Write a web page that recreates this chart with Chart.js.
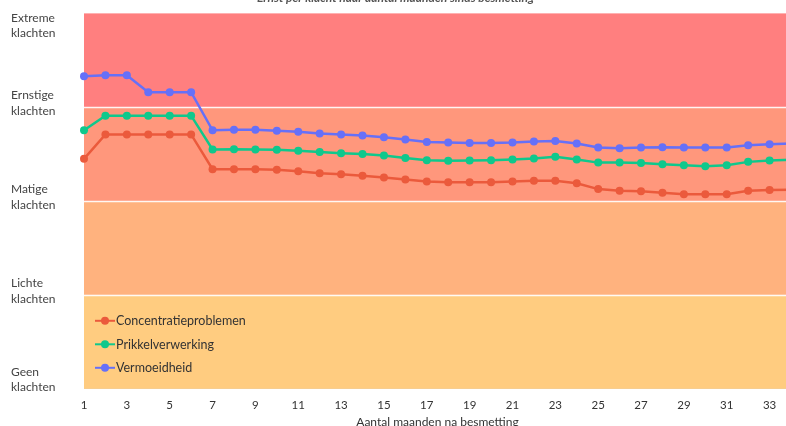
<!DOCTYPE html>
<html>
<head>
<meta charset="utf-8">
<script src="https://cdn.jsdelivr.net/npm/chart.js@4/dist/chart.umd.min.js"></script>
<style>
  html, body { margin: 0; padding: 0; background: #ffffff; overflow: hidden; width: 786px; height: 426px; }
  #wrap { position: absolute; left: 0; top: -19px; width: 804px; height: 452px; }
</style>
</head>
<body>
<div id="wrap"><canvas id="c" width="804" height="452"></canvas></div>
<script>
const titleText = 'Ernst per klacht naar aantal maanden sinds besmetting';
const xTitle = 'Aantal maanden na besmetting';
const months = ['1','2','3','4','5','6','7','8','9','10','11','12','13','14','15','16','17','18','19','20','21','22','23','24','25','26','27','28','29','30','31','32','33','34'];

const seriesNames = ['Concentratieproblemen', 'Prikkelverwerking', 'Vermoeidheid'];
const concentratie = [2.45,2.71,2.71,2.71,2.71,2.71,2.34,2.34,2.34,2.333,2.317,2.298,2.286,2.27,2.252,2.23,2.21,2.202,2.202,2.202,2.21,2.216,2.217,2.191,2.128,2.11,2.106,2.089,2.074,2.074,2.074,2.11,2.117,2.12];
const prikkel = [2.755,2.91,2.91,2.91,2.91,2.91,2.55,2.553,2.55,2.546,2.537,2.522,2.51,2.502,2.486,2.46,2.436,2.43,2.433,2.436,2.443,2.454,2.472,2.443,2.41,2.41,2.407,2.393,2.383,2.372,2.383,2.418,2.432,2.44];
const vermoeid = [3.33,3.34,3.34,3.16,3.16,3.16,2.755,2.76,2.76,2.75,2.74,2.72,2.71,2.70,2.68,2.656,2.63,2.624,2.62,2.62,2.624,2.635,2.64,2.613,2.571,2.564,2.571,2.574,2.571,2.571,2.571,2.596,2.606,2.615];
const seriesColors = ['#EB5A3C', '#0FC88C', '#6670F8'];

const yTickValues = [0, 1, 2, 3, 4];
const yTickLabels = [['Geen','klachten'], ['Lichte','klachten'], ['Matige','klachten'], ['Ernstige','klachten'], ['Extreme','klachten']];
const bandEdges = [0, 1, 2, 3, 4];
const bandColors = ['#FFCC80', '#FFB27E', '#FF977C', '#FF7F7F'];

const bandsPlugin = {
  id: 'bands',
  beforeDatasetsDraw(chart) {
    const { ctx, chartArea, scales } = chart;
    const y = scales.y;
    ctx.save();
    for (let i = 0; i < bandColors.length; i++) {
      const top = y.getPixelForValue(bandEdges[i + 1]);
      const bot = y.getPixelForValue(bandEdges[i]);
      ctx.fillStyle = bandColors[i];
      ctx.fillRect(chartArea.left, top, chartArea.right - chartArea.left, bot - top);
    }
    ctx.strokeStyle = 'rgba(255,255,255,0.9)';
    ctx.lineWidth = 1.5;
    for (let i = 1; i < bandEdges.length - 1; i++) {
      const p = Math.round(y.getPixelForValue(bandEdges[i])) + 0.5;
      ctx.beginPath();
      ctx.moveTo(chartArea.left, p);
      ctx.lineTo(chartArea.right, p);
      ctx.stroke();
    }
    ctx.restore();
  }
};

const yLabelPlugin = {
  id: 'ylabels',
  afterDraw(chart) {
    const { ctx, chartArea, scales } = chart;
    const y = scales.y;
    const lh = 15.5;
    ctx.save();
    ctx.font = '12px Lato';
    ctx.fillStyle = '#444444';
    ctx.textAlign = 'left';
    ctx.textBaseline = 'middle';
    yTickValues.forEach((v, i) => {
      const lines = yTickLabels[i];
      let c = y.getPixelForValue(v) - 4;
      c = Math.max(chartArea.top + 12, Math.min(chartArea.bottom - 9, c));
      const start = c - (lines.length - 1) * lh / 2;
      lines.forEach((t, k) => ctx.fillText(t, 11, start + k * lh));
    });
    ctx.restore();
  }
};

const legendPlugin = {
  id: 'innerLegend',
  afterDraw(chart) {
    const { ctx, chartArea } = chart;
    const ds = chart.data.datasets;
    ctx.save();
    ctx.font = '12.5px Lato';
    ctx.textAlign = 'left';
    ctx.textBaseline = 'middle';
    ds.forEach((d, i) => {
      const yy = chartArea.bottom - 68 + i * 23.5;
      const x0 = chartArea.left + 11;
      ctx.strokeStyle = d.borderColor;
      ctx.lineWidth = 2;
      ctx.beginPath();
      ctx.moveTo(x0, yy);
      ctx.lineTo(x0 + 20, yy);
      ctx.stroke();
      ctx.fillStyle = d.borderColor;
      ctx.beginPath();
      ctx.arc(x0 + 10, yy, 4, 0, Math.PI * 2);
      ctx.fill();
      ctx.fillStyle = '#333333';
      ctx.fillText(d.label, x0 + 21, yy + 0.5);
    });
    ctx.restore();
  }
};

const seriesData = [concentratie, prikkel, vermoeid];

new Chart(document.getElementById('c'), {
  type: 'line',
  data: {
    labels: months,
    datasets: seriesData.map((arr, i) => ({
      label: seriesNames[i],
      data: arr,
      borderColor: seriesColors[i],
      backgroundColor: seriesColors[i],
      pointBackgroundColor: seriesColors[i],
      pointBorderColor: seriesColors[i],
      pointBorderWidth: 0,
      pointRadius: 4,
      borderWidth: 2.5,
      tension: 0,
      fill: false
    }))
  },
  plugins: [bandsPlugin, yLabelPlugin, legendPlugin],
  options: {
    responsive: false,
    animation: false,
    layout: { padding: { left: 0, right: 13, top: 0, bottom: 0 } },
    plugins: {
      legend: { display: false },
      tooltip: { enabled: false },
      title: {
        display: true,
        text: titleText,
        color: '#555555',
        font: { family: 'Lato', size: 12, style: 'italic' },
        padding: { top: 10, bottom: 8 }
      }
    },
    scales: {
      x: {
        type: 'category',
        grid: { display: false },
        border: { display: true, color: '#d0d0d0' },
        ticks: {
          autoSkip: false,
          maxRotation: 0,
          color: '#333333',
          font: { family: 'Lato', size: 11.5 },
          padding: 2,
          callback: function(v, i) { return i % 2 === 0 ? months[i] : ''; }
        },
        title: {
          display: true,
          text: xTitle,
          color: '#333333',
          font: { family: 'Lato', size: 12 },
          padding: { top: 0, bottom: 4 }
        }
      },
      y: {
        min: 0,
        max: 4,
        grid: { display: false },
        border: { display: false },
        ticks: { display: false },
        afterFit: function(s) { s.width = 84; }
      }
    }
  }
});
</script>
</body>
</html>
